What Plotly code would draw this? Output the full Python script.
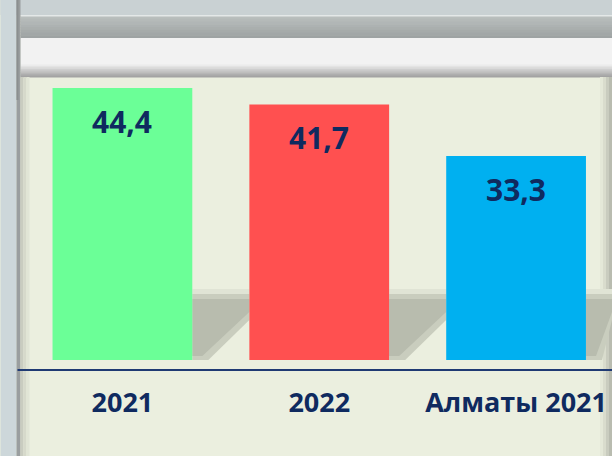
import plotly.graph_objects as go

categories = ["2021", "2022", "Алматы 2021"]
values = [44.4, 41.7, 33.3]
value_labels = ["44,4", "41,7", "33,3"]
bar_colors = ["#6BFF97", "#FF5050", "#00B0F0"]

W, H = 612, 456
PL, PR = 23.5, 612.0   # plot area left/right in px
PT, PB = 77.0, 370.0   # plot area top/bottom in px
NAVY = "#0F2A5F"

def px(x):
    return (x - PL) / (PR - PL)

def py(y):
    return (PB - y) / (PB - PT)

shapes = []

def rect(x0, y0, x1, y1, color, layer="below"):
    shapes.append(dict(type="rect", xref="paper", yref="paper",
                       x0=px(x0), x1=px(x1), y0=py(y1), y1=py(y0),
                       fillcolor=color, line=dict(width=0), layer=layer))

def poly(pts, color, layer="below"):
    d = "M " + " L ".join(f"{px(a):.5f},{py(b):.5f}" for a, b in pts) + " Z"
    shapes.append(dict(type="path", xref="paper", yref="paper", path=d,
                       fillcolor=color, line=dict(width=0), layer=layer))

def blend(c1, c2, t):
    a = [int(c1[i:i + 2], 16) for i in (1, 3, 5)]
    b = [int(c2[i:i + 2], 16) for i in (1, 3, 5)]
    return "#" + "".join(f"{round(a[k] + (b[k] - a[k]) * t):02x}" for k in range(3))

# top area above slide
rect(0, 0, W, 15, "#C9D1D3")
# top gray band (gradient)
n = 8
for i in range(n):
    y0 = 16 + i * (22 / n)
    rect(20, y0, W, y0 + 22 / n + 0.5, blend("#B9BEBD", "#9EA3A3", i / (n - 1)))
rect(20, 15, W, 16.5, "#E4E8E8")
# whitish band with gradient to gray at the bottom
rect(20, 38, W, 64, "#F2F2F2")
n = 8
for i in range(n):
    y0 = 64 + i * (13 / n)
    rect(20, y0, W, y0 + 13 / n + 0.5, blend("#EEEEEE", "#A3A3A3", i / (n - 1)))
# left strip
rect(0, 0, 16, H, "#CDD7DA")
rect(16, 0, 20, H, "#9A9E9F")
rect(16, 0, 18, 100, "#8B8F90")
# left soft shadow on slide
for i, c in enumerate(["#C9CCC0", "#D6D9CB", "#E1E5D6"]):
    rect(20 + i * 3, 77, 23 + i * 3, H, c)
# right edge soft shadow
for i, c in enumerate(["#E4E8D8", "#D9DCCD", "#C9CCBF", "#B9BCB0"]):
    rect(600 + i * 3, 77, 603 + i * 3, H, c)

# bar shadows (decorative)
for xr, xn in [(192, 249), (389, 446), (586, 612)]:
    poly([(xr, 289), (xn, 289), (xn, 299), (xr, 299)], "#E0E4D5")
    poly([(xr, 294), (xn, 294), (xn, 320), (xr + 16, 360), (xr, 360)], "#C9CDBE")
    poly([(xr, 299), (xn, 299), (xn, 312), (xr + 10, 356), (xr, 356)], "#B8BCAE")

# axis baseline
shapes.append(dict(type="line", xref="paper", yref="paper",
                   x0=px(17), x1=px(W), y0=0, y1=0,
                   line=dict(color="#1F3A73", width=2), layer="above"))

fig = go.Figure()
fig.add_trace(go.Bar(x=list(range(len(categories))), y=values,
                     marker=dict(color=bar_colors, line=dict(width=0)),
                     width=0.71, hoverinfo="skip"))

annotations = []
for i, (v, t) in enumerate(zip(values, value_labels)):
    annotations.append(dict(x=i, y=v, xref="x", yref="y", text=t, showarrow=False,
                            yanchor="middle", yshift=-33,
                            font=dict(family="Open Sans", size=30, color=NAVY, weight="bold")))

px_per_unit = 6.126
y_bottom = -(PB - 360) / px_per_unit
y_top = (PB - PT) / px_per_unit + y_bottom
x_top = -0.5 + (PR - PL) / 197.0

fig.update_layout(
    width=W, height=H,
    margin=dict(l=PL, r=W - PR, t=PT, b=H - PB, pad=0),
    paper_bgcolor="#EBEFDF", plot_bgcolor="rgba(0,0,0,0)",
    showlegend=False, shapes=shapes, annotations=annotations,
    xaxis=dict(range=[-0.5, x_top], showgrid=False, zeroline=False, showline=False,
               tickmode="array", tickvals=list(range(len(categories))), ticktext=categories,
               ticks="", ticklabelstandoff=14,
               tickfont=dict(family="Open Sans", size=27, color=NAVY, weight="bold")),
    yaxis=dict(range=[y_bottom, y_top], visible=False, showgrid=False, zeroline=False),
)
fig.write_html("out.html", config={"displayModeBar": False},
               post_script="document.body.style.margin='0';")
